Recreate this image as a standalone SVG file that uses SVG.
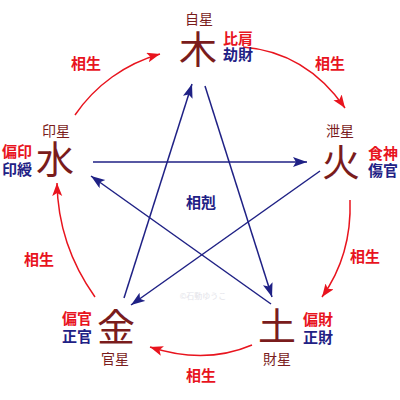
<svg xmlns="http://www.w3.org/2000/svg" width="400" height="400" viewBox="0 0 400 400">
<style>
text{font-family:"Noto Sans CJK JP","Noto Sans CJK SC",sans-serif;}
.big{font-size:38px;fill:#7a1c1c;text-anchor:middle;}
.star{font-size:14px;fill:#7a1c1c;text-anchor:middle;}
.r{font-size:15px;fill:#e8141e;font-weight:700;}
.b{font-size:15px;fill:#1f2185;font-weight:700;}
.sei{font-size:15px;fill:#e8141e;font-weight:700;text-anchor:middle;}
.koku{font-size:15px;fill:#1f2185;font-weight:700;text-anchor:middle;}
.arc{fill:none;stroke:#e8141e;stroke-width:1.5;marker-end:url(#ra);}
.ln{fill:none;stroke:#1f2185;stroke-width:1.5;marker-end:url(#ba);}
</style>
<defs>
<marker id="ra" markerUnits="userSpaceOnUse" markerWidth="14" markerHeight="12" refX="13" refY="5" orient="auto">
<path d="M0,0 L13,5 L0,10 L3,5 z" fill="#e8141e"/>
</marker>
<marker id="ba" markerUnits="userSpaceOnUse" markerWidth="15" markerHeight="12" refX="14" refY="5" orient="auto">
<path d="M0,0 L14,5 L0,10 L3,5 z" fill="#1f2185"/>
</marker>
</defs>
<g id="connectors">
<path class="arc" d="M75,115 A153,153 0 0,1 160,54"/>
<path class="arc" d="M243,47 Q306,52 345,108"/>
<path class="arc" d="M350,200 Q352,255 322,297"/>
<path class="arc" d="M252,345 Q205,365 150,347"/>
<path class="arc" d="M95,297 Q58,245 57,183"/>
<path class="ln" d="M124,298 L192,84"/>
<path class="ln" d="M205,86 L272,297"/>
<path class="ln" d="M271,304 L91,176"/>
<path class="ln" d="M93,162 L307,162"/>
<path class="ln" d="M320,171 L131,305"/>
</g>
<g id="labels">
<text class="sei" x="86" y="69">相生</text>
<text class="sei" x="330" y="69">相生</text>
<text class="sei" x="365" y="262">相生</text>
<text class="sei" x="201" y="381">相生</text>
<text class="sei" x="39" y="265">相生</text>
<text class="koku" x="201" y="208">相剋</text>
<text x="203" y="299" font-size="8" fill="#e4e4ea" text-anchor="middle">©石動ゆうこ</text>
</g>
<g id="wood">
<text class="star" x="199" y="24">自星</text>
<text class="big" x="198" y="63">木</text>
<text class="r" x="223" y="44">比肩</text>
<text class="b" x="223" y="60">劫財</text>
</g>
<g id="fire">
<text class="star" x="340" y="136">泄星</text>
<text class="big" x="341" y="176">火</text>
<text class="r" x="368" y="159">食神</text>
<text class="b" x="368" y="176">傷官</text>
</g>
<g id="earth">
<text class="big" x="277" y="340">土</text>
<text class="star" x="277" y="364">財星</text>
<text class="r" x="303" y="325">偏財</text>
<text class="b" x="303" y="343">正財</text>
</g>
<g id="metal">
<text class="big" x="116" y="341">金</text>
<text class="star" x="115" y="364">官星</text>
<text class="r" x="62" y="324">偏官</text>
<text class="b" x="62" y="342">正官</text>
</g>
<g id="water">
<text class="star" x="56" y="136">印星</text>
<text class="big" x="55" y="173">水</text>
<text class="r" x="2" y="157">偏印</text>
<text class="b" x="2" y="175">印綬</text>
</g>
</svg>
